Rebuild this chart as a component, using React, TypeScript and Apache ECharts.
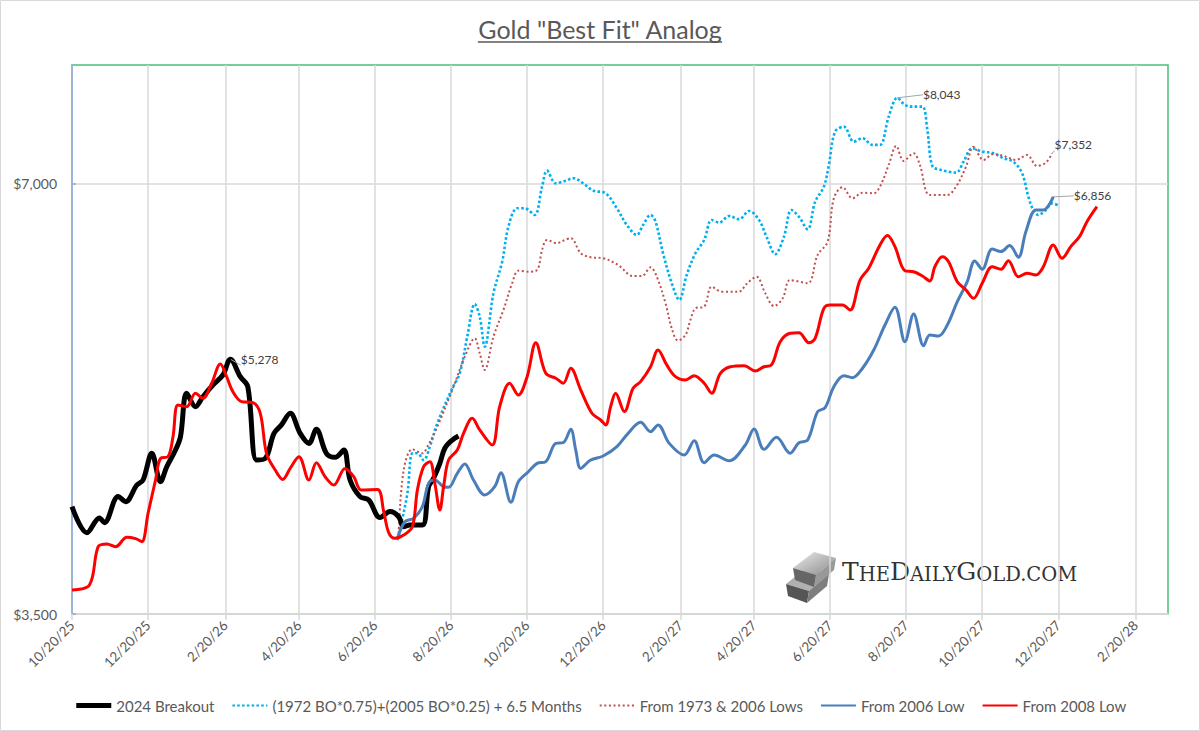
import React, { useEffect, useRef } from "react";
import * as echarts from "echarts";

// ---------- axis definitions ----------
const BASE_DATE = [2025, 10, 20]; // 10/20/25 = day 0 of every series below
const AXIS_END_DATE = [2028, 3, 17];
const X_TICK_DATES = [
  "2025-10-20", "2025-12-20", "2026-02-20", "2026-04-20", "2026-06-20",
  "2026-08-20", "2026-10-20", "2026-12-20", "2027-02-20", "2027-04-20",
  "2027-06-20", "2027-08-20", "2027-10-20", "2027-12-20", "2028-02-20",
];
const Y_MIN = 3500;
const Y_MAX = 8480;
const Y_TICKS = [3500, 7000];

// ---------- series (day offset from 10/20/25, price in $) ----------
const breakoutDays = [0, 12, 22, 26, 37, 43, 52, 57, 64, 71, 76, 83, 87, 92, 99, 105, 113, 121, 127, 135, 141, 148, 155, 162, 168, 175, 183, 190, 196, 204, 211, 218, 223, 231, 238, 247, 255, 262, 266, 271, 281, 286, 290, 295, 299, 305, 310];
const breakoutValues = [4161, 3990, 4086, 4055, 4229, 4195, 4309, 4344, 4535, 4332, 4438, 4559, 4658, 4996, 4889, 4968, 5063, 5145, 5278, 5131, 5049, 4486, 4498, 4683, 4747, 4837, 4683, 4608, 4714, 4535, 4506, 4559, 4344, 4229, 4206, 4089, 4128, 4094, 4029, 4040, 4040, 4297, 4356, 4462, 4572, 4633, 4663];

const analogDays = [261, 263, 269, 273, 277, 282, 287, 293, 305, 311, 317, 323, 327, 331, 338, 345, 350, 357, 363, 371, 377, 381, 388, 396, 402, 410, 418, 428, 437, 445, 453, 458, 464, 468, 474, 481, 487, 493, 500, 507, 513, 519, 527, 535, 543, 551, 557, 564, 571, 577, 583, 590, 596, 603, 607, 612, 619, 627, 634, 642, 648, 655, 662, 668, 675, 682, 686, 690, 697, 709, 715, 722, 730, 739, 747, 755, 762, 767, 771, 775, 781, 786, 792];
const analogValues = [3943, 4008, 4252, 4535, 4535, 4486, 4584, 4760, 5036, 5159, 5473, 5769, 5652, 5385, 5869, 6176, 6534, 6731, 6731, 6659, 6970, 7152, 7008, 7037, 7065, 7008, 6925, 6896, 6731, 6552, 6448, 6552, 6659, 6587, 6261, 5965, 5806, 6045, 6261, 6396, 6605, 6577, 6648, 6613, 6702, 6605, 6430, 6251, 6430, 6713, 6640, 6507, 6803, 6970, 7218, 7616, 7678, 7494, 7536, 7455, 7455, 7803, 8043, 7952, 7930, 7930, 7637, 7206, 7160, 7129, 7256, 7415, 7375, 7356, 7297, 7256, 7122, 6858, 6713, 6659, 6713, 6785, 6756];

const lows7306Days = [262, 266, 273, 281, 285, 293, 306, 315, 323, 327, 331, 338, 346, 353, 358, 366, 373, 377, 381, 389, 394, 400, 408, 416, 426, 438, 450, 457, 464, 469, 476, 481, 486, 492, 496, 500, 507, 513, 521, 535, 541, 549, 556, 563, 570, 576, 590, 598, 606, 611, 618, 626, 634, 643, 648, 655, 661, 667, 675, 680, 688, 702, 709, 717, 723, 731, 739, 749, 757, 766, 774, 781, 786];
const lows7306Values = [3986, 4414, 4564, 4535, 4584, 4734, 5049, 5299, 5458, 5328, 5187, 5473, 5713, 5965, 6087, 6077, 6094, 6294, 6396, 6362, 6389, 6414, 6261, 6220, 6210, 6143, 6035, 6035, 6120, 6028, 5776, 5547, 5438, 5488, 5622, 5729, 5744, 5932, 5885, 5885, 5958, 6028, 5869, 5750, 5822, 5996, 5965, 6244, 6378, 6840, 6963, 6840, 6902, 6896, 6970, 7218, 7443, 7265, 7356, 7218, 6877, 6877, 6970, 7198, 7434, 7277, 7347, 7315, 7277, 7335, 7206, 7245, 7352];

const low2006Days = [261, 267, 274, 281, 286, 291, 298, 302, 309, 315, 322, 331, 339, 344, 352, 358, 366, 373, 380, 388, 394, 400, 404, 408, 416, 426, 437, 446, 456, 464, 470, 479, 491, 499, 507, 515, 527, 540, 547, 555, 565, 576, 583, 590, 598, 604, 611, 619, 626, 634, 643, 652, 660, 668, 675, 683, 688, 695, 702, 710, 718, 724, 730, 738, 745, 752, 759, 765, 773, 779, 787];
const low2006Values = [3954, 4061, 4084, 4161, 4321, 4344, 4297, 4293, 4391, 4458, 4344, 4240, 4297, 4395, 4191, 4332, 4402, 4462, 4474, 4608, 4613, 4714, 4559, 4426, 4486, 4515, 4584, 4683, 4767, 4696, 4747, 4608, 4522, 4628, 4467, 4522, 4481, 4596, 4716, 4564, 4653, 4535, 4613, 4633, 4850, 4881, 5049, 5139, 5123, 5201, 5356, 5577, 5739, 5429, 5677, 5394, 5488, 5479, 5577, 5790, 5980, 6183, 6101, 6304, 6277, 6338, 6220, 6482, 6713, 6713, 6856];

const low2008Days = [0, 14, 21, 28, 35, 44, 51, 56, 61, 67, 71, 77, 81, 85, 92, 99, 105, 112, 119, 124, 129, 136, 145, 151, 156, 163, 169, 175, 182, 190, 196, 203, 210, 219, 226, 232, 245, 250, 254, 259, 266, 273, 277, 282, 287, 291, 295, 298, 302, 309, 314, 321, 327, 337, 343, 351, 358, 365, 372, 380, 388, 394, 400, 408, 417, 424, 428, 432, 436, 443, 450, 456, 464, 470, 477, 484, 492, 499, 507, 513, 520, 528, 539, 548, 555, 561, 568, 576, 583, 591, 596, 603, 608, 618, 624, 632, 639, 648, 654, 660, 668, 675, 682, 688, 692, 698, 703, 710, 717, 723, 730, 738, 745, 751, 759, 766, 773, 779, 787, 794, 801, 808, 814, 822];
const low2008Values = [3638, 3668, 3901, 3918, 3901, 3961, 3952, 3933, 4117, 4344, 4498, 4510, 4658, 4902, 4889, 4996, 4956, 5077, 5237, 5131, 5009, 4929, 4921, 4837, 4535, 4414, 4348, 4426, 4510, 4344, 4467, 4367, 4309, 4426, 4367, 4274, 4277, 4128, 3991, 3954, 3975, 4029, 4274, 4438, 4474, 4321, 4139, 4297, 4486, 4559, 4683, 4798, 4709, 4596, 4889, 5077, 4982, 5131, 5420, 5159, 5118, 5077, 5201, 5022, 4837, 4785, 4747, 4889, 4996, 4850, 5036, 5090, 5214, 5356, 5229, 5131, 5104, 5139, 5077, 4996, 5159, 5214, 5223, 5178, 5214, 5229, 5429, 5503, 5508, 5420, 5458, 5729, 5760, 5760, 5713, 5996, 6111, 6345, 6441, 6328, 6087, 6077, 6035, 5987, 6126, 6226, 6176, 5980, 5901, 5822, 5965, 6126, 6101, 6186, 6028, 6062, 6045, 6126, 6345, 6210, 6328, 6430, 6587, 6748];

const SERIES_NAMES = [
  "2024 Breakout",
  "(1972 BO*0.75)+(2005 BO*0.25) + 6.5 Months",
  "From 1973 & 2006 Lows",
  "From 2006 Low",
  "From 2008 Low",
];

const TITLE = 'Gold "Best Fit" Analog';
const FONT = "Lato, 'Open Sans', sans-serif";

const DAY_MS = 86400000;
const utc = (y: number, m: number, d: number) => Date.UTC(y, m - 1, d);
const BASE_TS = utc(BASE_DATE[0], BASE_DATE[1], BASE_DATE[2]);
const toDay = (ts: number) => Math.round((ts - BASE_TS) / DAY_MS);
const END_DAY = toDay(utc(AXIS_END_DATE[0], AXIS_END_DATE[1], AXIS_END_DATE[2]));
const X_TICKS = X_TICK_DATES.map((s) => {
  const [y, m, d] = s.split("-").map(Number);
  return toDay(utc(y, m, d));
});

const fmtDay = (day: number) => {
  const d = new Date(BASE_TS + Math.round(day) * DAY_MS);
  return `${d.getUTCMonth() + 1}/${d.getUTCDate()}/${String(d.getUTCFullYear()).slice(2)}`;
};
const fmtDollar = (v: number) => "$" + Math.round(v).toLocaleString("en-US");

type LabelSpec = { index: number; label: any };

function buildData(days: number[], values: number[], labels: LabelSpec[] = []) {
  return days.map((d, i) => {
    const item: any = { value: [d, values[i]] };
    const spec = labels.find((l) => l.index === i);
    if (spec) {
      item.symbol = "circle";
      item.symbolSize = 1;
      item.label = {
        show: true,
        formatter: fmtDollar(values[i]),
        color: "#404040",
        fontSize: 12,
        fontFamily: FONT,
        ...spec.label,
      };
    }
    return item;
  });
}

function measureText(text: string, font: string) {
  const ctx = document.createElement("canvas").getContext("2d");
  if (!ctx) return text.length * 11;
  ctx.font = font;
  return ctx.measureText(text).width;
}

export default function App() {
  const ref = useRef<HTMLDivElement>(null);

  useEffect(() => {
    const el = ref.current;
    if (!el) return;
    const chart = echarts.init(el, undefined, { renderer: "svg" });

    const titleSize = 25;
    const titleW = measureText(TITLE, `${titleSize}px Lato`);

    const commonLine = {
      type: "line",
      symbol: "none",
      showSymbol: true,
      smooth: 0.35,
      emphasis: { disabled: true },
      labelLine: { show: true, lineStyle: { color: "#a6a6a6", width: 1 } },
    };

    const option: any = {
      animation: false,
      backgroundColor: "#ffffff",
      textStyle: { fontFamily: FONT },
      grid: {
        left: 72,
        right: 32,
        top: 65,
        bottom: 117,
        show: true,
        borderColor: "#4cbf7b",
        borderWidth: 1.5,
        backgroundColor: "transparent",
        outerBoundsMode: "none",
        containLabel: false,
      },
      legend: {
        top: 693,
        left: "center",
        itemWidth: 35,
        itemHeight: 14,
        itemGap: 17,
        itemStyle: { color: "rgba(0,0,0,0)", borderWidth: 0, opacity: 0 },
        textStyle: { color: "#595959", fontSize: 15, fontFamily: FONT },
        data: SERIES_NAMES.map((name, i) =>
          i === 0 ? { name, lineStyle: { width: 5 } } : { name }
        ),
        selectedMode: false,
      },
      xAxis: {
        type: "value",
        min: 0,
        max: END_DAY,
        axisLine: { show: true, onZero: false, lineStyle: { color: "#d9d9d9", width: 1.5 } },
        axisTick: {
          show: true,
          length: 6,
          lineStyle: { color: "#d9d9d9", width: 1.5 },
          customValues: X_TICKS,
        },
        axisLabel: {
          customValues: X_TICKS,
          rotate: 45,
          margin: 9,
          color: "#595959",
          fontSize: 13.5,
          fontFamily: FONT,
          formatter: (v: number) => fmtDay(v),
        },
        splitLine: { show: true, lineStyle: { color: "#d9d9d9", width: 1.5 } },
      },
      yAxis: {
        type: "log",
        logBase: 2,
        min: Y_MIN,
        max: Y_MAX,
        axisLine: { show: true, lineStyle: { color: "#8faadc", width: 1.5 } },
        axisTick: {
          show: true,
          inside: true,
          length: 4,
          lineStyle: { color: "#8faadc", width: 1.5 },
          customValues: Y_TICKS,
        },
        axisLabel: {
          customValues: Y_TICKS,
          color: "#595959",
          fontSize: 14,
          margin: 15,
          fontFamily: FONT,
          formatter: (v: number) => fmtDollar(v),
        },
        splitLine: { show: true, lineStyle: { color: "#d9d9d9", width: 1.5 } },
      },
      series: [
        {
          ...commonLine,
          name: SERIES_NAMES[0],
          data: buildData(breakoutDays, breakoutValues, [
            { index: breakoutValues.indexOf(5278), label: { position: "right", distance: 10 } },
          ]),
          lineStyle: { color: "#000000", width: 5 },
          itemStyle: { color: "#000000" },
          z: 3,
        },
        {
          ...commonLine,
          name: SERIES_NAMES[1],
          data: buildData(analogDays, analogValues, [
            { index: analogValues.indexOf(8043), label: { position: "right", distance: 3 } },
          ]),
          labelLayout: { dx: 22, dy: -3 },
          lineStyle: { color: "#00b0f0", width: 2.6, type: [2.6, 2.2], cap: "butt" },
          itemStyle: { color: "#00b0f0" },
          z: 2,
        },
        {
          ...commonLine,
          name: SERIES_NAMES[2],
          data: buildData(lows7306Days, lows7306Values, [
            { index: lows7306Values.length - 1, label: { position: "right", distance: 2, offset: [0, -9] } },
          ]),
          lineStyle: { color: "#c0504d", width: 2, type: [2, 2.6], cap: "butt" },
          itemStyle: { color: "#c0504d" },
          z: 2,
        },
        {
          ...commonLine,
          name: SERIES_NAMES[3],
          data: buildData(low2006Days, low2006Values, [
            { index: low2006Values.length - 1, label: { position: "right", distance: 2 } },
          ]),
          labelLayout: { dx: 18, dy: -1 },
          lineStyle: { color: "#4a7ebb", width: 3 },
          itemStyle: { color: "#4a7ebb" },
          z: 3,
        },
        {
          ...commonLine,
          name: SERIES_NAMES[4],
          data: buildData(low2008Days, low2008Values),
          lineStyle: { color: "#ff0000", width: 3 },
          itemStyle: { color: "#ff0000" },
          z: 4,
        },
      ],
      graphic: [
        {
          type: "rect",
          shape: { x: 0.5, y: 0.5, width: 1199, height: 730 },
          style: { fill: "none", stroke: "#d9d9d9", lineWidth: 1 },
          silent: true,
          z: -10,
        },
        {
          type: "text",
          x: 600,
          y: 29,
          style: {
            text: TITLE,
            fill: "#595959",
            fontSize: titleSize,
            fontFamily: FONT,
            align: "center",
            verticalAlign: "middle",
          },
          silent: true,
        },
        {
          type: "line",
          shape: { x1: 600 - titleW / 2, y1: 42, x2: 600 + titleW / 2, y2: 42 },
          style: { stroke: "#595959", lineWidth: 1.4 },
          silent: true,
        },
        {
          type: "group",
          silent: true,
          children: [
            { type: "polygon", shape: { points: [[786, 584], [806, 568], [829, 574], [809, 591]] }, style: { fill: "#b0b0b0" } },
            { type: "polygon", shape: { points: [[786, 584], [809, 591], [807, 603], [788, 596]] }, style: { fill: "#555555" } },
            { type: "polygon", shape: { points: [[809, 591], [829, 574], [827, 586], [807, 603]] }, style: { fill: "#7e7e7e" } },
            {
              type: "polygon",
              shape: { points: [[793, 568], [814, 552], [836, 558], [816, 575]] },
              style: {
                fill: new echarts.graphic.LinearGradient(0, 0, 1, 1, [
                  { offset: 0, color: "#ececec" },
                  { offset: 1, color: "#8a8a8a" },
                ]),
              },
            },
            { type: "polygon", shape: { points: [[793, 568], [816, 575], [814, 587], [795, 580]] }, style: { fill: "#666666" } },
            { type: "polygon", shape: { points: [[816, 575], [836, 558], [834, 570], [814, 587]] }, style: { fill: "#999999" } },
            {
              type: "text",
              x: 842,
              y: 584,
              style: {
                text: "{b|T}{s|HE}{b|D}{s|AILY}{b|G}{s|OLD.COM}",
                verticalAlign: "bottom",
                rich: {
                  b: { fontFamily: "'DejaVu Serif', serif", fontSize: 25, fill: "#333333", verticalAlign: "bottom" },
                  s: { fontFamily: "'DejaVu Serif', serif", fontSize: 19.5, fill: "#333333", verticalAlign: "bottom" },
                },
              },
            },
          ],
        },
      ],
    };

    chart.setOption(option);
    return () => chart.dispose();
  }, []);

  return (
    <div
      ref={ref}
      style={{ position: "absolute", left: 0, top: 0, width: 1200, height: 731, background: "#ffffff" }}
    />
  );
}
